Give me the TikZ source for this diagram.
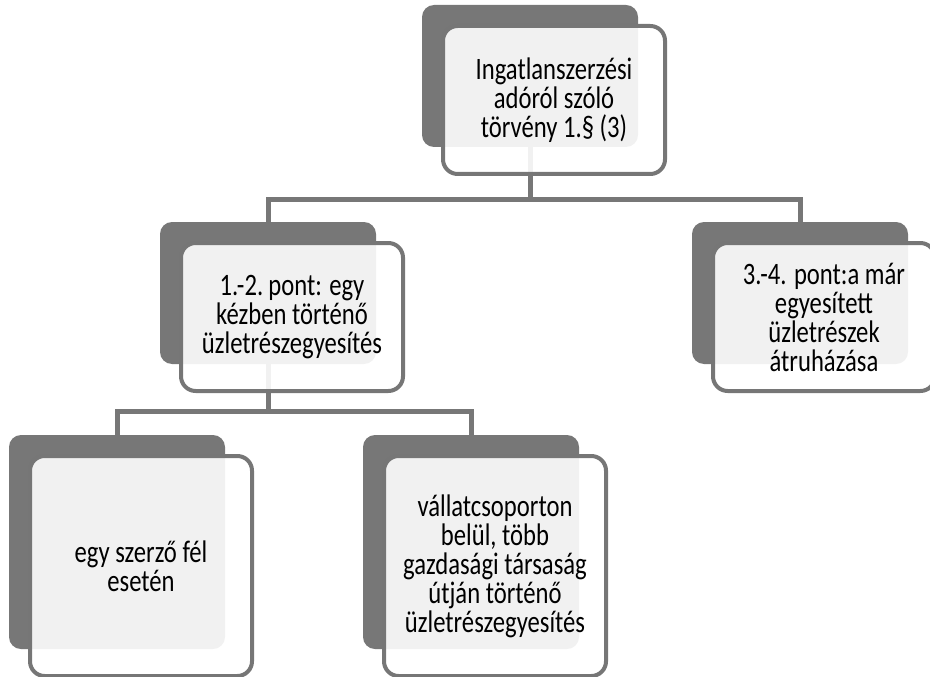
\documentclass[tikz,border=0pt]{standalone}
\usepackage{fontspec}
\setmainfont{Carlito}
\newfontfamily\boxfont[FakeStretch=0.79]{Carlito}
\usetikzlibrary{positioning, calc, backgrounds}

\definecolor{shadegray}{HTML}{777777}
\definecolor{edgegray}{HTML}{767676}

\begin{document}
\begin{tikzpicture}[x=0.75pt, y=-0.75pt,
        back_box/.style={rectangle, rounded corners=9pt, fill=shadegray, inner sep=0pt,
            minimum width=162pt, minimum height=106.5pt},
        back_tall/.style={back_box, minimum height=160.5pt},
        front_box/.style={rectangle, rounded corners=11pt, draw=edgegray, line width=3pt,
            fill=white, fill opacity=0.9, text opacity=1, align=center,
            minimum width=166.5pt, minimum height=111pt,
            font=\boxfont\fontsize{23.4}{21.75}\selectfont},
        front_tall/.style={front_box, minimum height=165pt},
        link/.style={draw=shadegray, line width=3.75pt}]

        \useasboundingbox (0,0) rectangle (930,677);

        % Back (shadow) boxes
        \node[back_box] (top_back) at (530,76) {};
        \node[back_box] (left_back) at (268,293) {};
        \node[back_box] (right_back) at (800,293) {};
        \node[back_tall] (one_back) at (117,542) {};
        \node[back_tall] (group_back) at (471,542) {};

        % Front boxes with the texts
        \node[front_box] (top) at ([shift={(24,24)}]top_back.center)
            {Ingatlanszerzési\\adóról szóló\\törvény 1.§ (3)};
        \node[front_box] (left) at ([shift={(24,24)}]left_back.center)
            {1.-2.\,pont: egy\\kézben történő\\üzletrészegyesítés};
        \node[front_box] (right) at ([shift={(24,24)}]right_back.center)
            {3.-4. pont:a már\\egyesített\\üzletrészek\\átruházása};
        \node[front_tall] (one) at ([shift={(24,24)}]one_back.center)
            {egy szerző fél\\esetén};
        \node[front_tall] (group) at ([shift={(24,24)}]group_back.center)
            {vállatcsoporton\\belül, több\\gazdasági társaság\\útján történő\\üzletrészegyesítés};

        % Bars of the tree
        \coordinate (bar_one) at (0,200);
        \coordinate (bar_two) at (0,411);

        \begin{scope}[on background layer]
            \draw[link] (top_back.south) -- (top_back.south |- bar_one) -| (left_back.north);
            \draw[link] (top_back.south |- bar_one) -| (right_back.north);
            \draw[link] (left_back.south) -- (left_back.south |- bar_two) -| (one_back.north);
            \draw[link] (left_back.south |- bar_two) -| (group_back.north);
        \end{scope}
    \end{tikzpicture}
\end{document}
